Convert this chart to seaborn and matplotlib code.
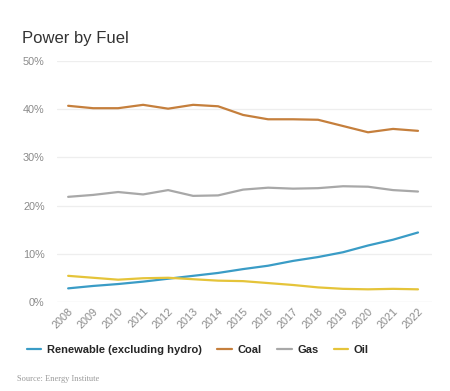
import pandas as pd
import matplotlib.pyplot as plt
import seaborn as sns

years = list(range(2008, 2023))
renewable = [2.8, 3.3, 3.7, 4.2, 4.8, 5.4, 6.0, 6.8, 7.5, 8.5, 9.3, 10.3, 11.7, 12.9, 14.4]
coal = [40.7, 40.2, 40.2, 40.9, 40.1, 40.9, 40.6, 38.8, 37.9, 37.9, 37.8, 36.5, 35.2, 35.9, 35.5]
gas = [21.8, 22.2, 22.8, 22.3, 23.2, 22.0, 22.1, 23.3, 23.7, 23.5, 23.6, 24.0, 23.9, 23.2, 22.9]
oil = [5.4, 5.0, 4.6, 4.9, 5.0, 4.7, 4.4, 4.3, 3.9, 3.5, 3.0, 2.7, 2.6, 2.7, 2.6]

series_names = ['Renewable (excluding hydro)', 'Coal', 'Gas', 'Oil']
colors = ['#3a9cc6', '#c57f3c', '#a8a8a8', '#e5c43a']
y_ticks = [0, 10, 20, 30, 40, 50]

df = pd.DataFrame({'Year': years, series_names[0]: renewable, series_names[1]: coal,
                   series_names[2]: gas, series_names[3]: oil})
long = df.melt(id_vars='Year', var_name='Fuel', value_name='Share')

sns.set_theme(style='white')
plt.rcParams['font.family'] = ['Liberation Sans', 'DejaVu Sans']

fig = plt.figure(figsize=(4.5, 3.91), dpi=100)
ax = fig.add_axes([0.127, 0.228, 0.833, 0.616])

sns.lineplot(data=long, x='Year', y='Share', hue='Fuel', palette=colors,
             hue_order=series_names, linewidth=1.6, ax=ax, legend=False)

ax.set_xlim(2007.56, 2022.56)
ax.set_ylim(0, 50)
ax.set_yticks(y_ticks)
ax.set_yticklabels([f'{t}%' for t in y_ticks])
ax.set_xticks(years)
ax.set_xticklabels([str(y) for y in years], rotation=45, ha='right', rotation_mode='anchor')
ax.tick_params(axis='both', colors='#8a8a8a', labelsize=7.8, length=0, pad=3)
ax.tick_params(axis='y', pad=9)
for t in y_ticks:
    ax.axhline(t, color='#d8d8d8' if t == 0 else '#eeeeee', linewidth=0.9, zorder=0)
sns.despine(ax=ax, left=True, bottom=True)
ax.set_xlabel('')
ax.set_ylabel('')

fig.text(0.049, 0.89, 'Power by Fuel', fontsize=12, color='#333333')

handles = [plt.Line2D([], [], color=c, linewidth=1.6) for c in colors]
fig.legend(handles, series_names, loc='center', bbox_to_anchor=(0.44, 0.105), ncol=4,
           frameon=False, handlelength=1.3, columnspacing=1.4, handletextpad=0.5,
           prop={'weight': 'bold', 'size': 8})
fig.text(0.038, 0.025, 'Source: Energy Institute', fontsize=6, color='#999999', family='Liberation Serif')

fig.savefig('out.png', dpi=100)
